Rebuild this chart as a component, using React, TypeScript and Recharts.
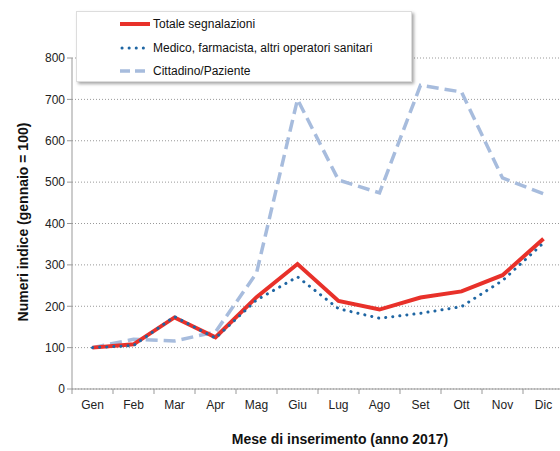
import React from 'react';
import { LineChart, Line, XAxis, YAxis, CartesianGrid } from 'recharts';

const months = ['Gen', 'Feb', 'Mar', 'Apr', 'Mag', 'Giu', 'Lug', 'Ago', 'Set', 'Ott', 'Nov', 'Dic'];
const totale = [100, 108, 173, 125, 222, 302, 213, 192, 221, 236, 275, 363];
const medico = [100, 105, 175, 123, 215, 271, 194, 171, 183, 199, 262, 353];
const cittadino = [100, 120, 116, 138, 280, 700, 505, 474, 734, 718, 510, 472];
const yTicks = [0, 100, 200, 300, 400, 500, 600, 700, 800];

const data = months.map((m, i) => ({
  month: m,
  totale: totale[i],
  medico: medico[i],
  cittadino: cittadino[i],
}));

const FONT = '"Liberation Sans", Arial, sans-serif';
const STEP = 41;

// category ticks sit between months, like the spreadsheet original
const MonthTick = (props: any) => {
  const { x, y, payload, index } = props;
  const half = STEP / 2;
  return (
    <g>
      <line x1={x - half} y1={y - 8} x2={x - half} y2={y - 3} stroke="#999" />
      {index === months.length - 1 && (
        <line x1={x + half} y1={y - 8} x2={x + half} y2={y - 3} stroke="#999" />
      )}
      <text x={x} y={y + 12} textAnchor="middle" fontSize={12} fill="#222" fontFamily={FONT}>
        {payload.value}
      </text>
    </g>
  );
};

const legendItems = [
  { label: 'Totale segnalazioni', el: <line x1={0} y1={6} x2={30} y2={6} stroke="#E8312A" strokeWidth={4} /> },
  {
    label: 'Medico, farmacista, altri operatori sanitari',
    el: <line x1={2} y1={6} x2={30} y2={6} stroke="#1F66A3" strokeWidth={3} strokeDasharray="0.1 7" strokeLinecap="round" />,
  },
  { label: 'Cittadino/Paziente', el: <line x1={0} y1={6} x2={30} y2={6} stroke="#A7BCDD" strokeWidth={3.5} strokeDasharray="10 5" /> },
];

const LegendBox = () => (
  <div
    style={{
      position: 'absolute',
      left: 76,
      top: 11,
      width: 334,
      height: 69,
      background: '#fff',
      border: '1px solid #ddd',
      boxShadow: '2px 2px 3px rgba(0,0,0,0.35)',
      fontFamily: FONT,
      fontSize: 12,
      color: '#111',
    }}
  >
    {legendItems.map((it, i) => (
      <div key={i} style={{ position: 'absolute', left: 43, top: 5 + i * 23.5, display: 'flex', alignItems: 'center' }}>
        <svg width={31} height={12} style={{ marginRight: 2 }}>{it.el}</svg>
        <span>{it.label}</span>
      </div>
    ))}
  </div>
);

export default function App() {
  return (
    <div style={{ position: 'absolute', left: 0, top: 0, width: 560, height: 451, overflow: 'hidden', background: '#fff' }}>
      <LineChart
        width={564}
        height={451}
        data={data}
        margin={{ top: 58, right: 0, left: 12, bottom: 32 }}
      >
        <CartesianGrid vertical={false} stroke="#999" strokeDasharray="1 2" />
        <XAxis
          dataKey="month"
          height={30}
          stroke="#999"
          tickLine={false}
          tick={<MonthTick />}
          interval={0}
          padding={{ left: STEP / 2, right: STEP / 2 }}
        />
        <YAxis
          width={60}
          domain={[0, 800]}
          ticks={yTicks}
          stroke="#999"
          tickSize={5}
          tick={{ fontSize: 12, fill: '#222', fontFamily: FONT }}
        />
        <Line type="linear" dataKey="cittadino" stroke="#A7BCDD" strokeWidth={3.5} strokeDasharray="12 6" dot={false} isAnimationActive={false} />
        <Line type="linear" dataKey="totale" stroke="#E8312A" strokeWidth={4} dot={false} isAnimationActive={false} />
        <Line type="linear" dataKey="medico" stroke="#1F66A3" strokeWidth={3} strokeDasharray="0.1 7" strokeLinecap="round" dot={false} isAnimationActive={false} />
        <text x={24} y={222} transform="rotate(-90 24 222)" textAnchor="middle" dominantBaseline="middle" fontSize={14} fontWeight="bold" fill="#111" fontFamily={FONT}>
          Numeri indice (gennaio = 100)
        </text>
        <text x={340} y={444} textAnchor="middle" fontSize={14} fontWeight="bold" fill="#111" fontFamily={FONT}>
          Mese di inserimento (anno 2017)
        </text>
      </LineChart>
      <LegendBox />
    </div>
  );
}
